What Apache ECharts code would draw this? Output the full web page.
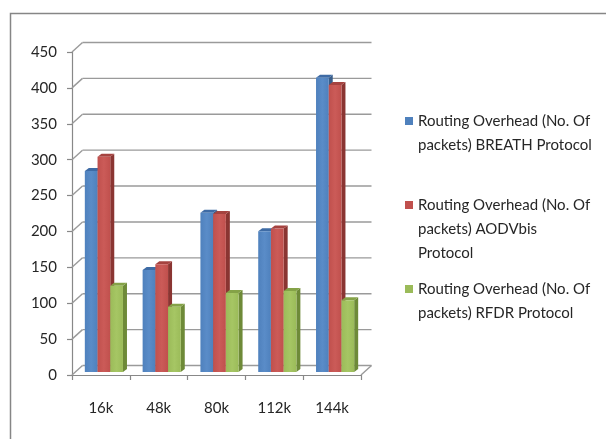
<!DOCTYPE html>
<html>
<head>
<meta charset="utf-8">
<script src="https://cdn.jsdelivr.net/npm/echarts@6/dist/echarts.min.js"></script>
<style>html,body{margin:0;padding:0;background:#fff}#c{width:606px;height:439px}</style>
</head>
<body>
<div id="c"></div>
<script>
const categories = ['16k', '48k', '80k', '112k', '144k'];
const breath = [280, 142, 222, 196, 410];
const aodvbis = [300, 150, 220, 200, 400];
const rfdr = [120, 91, 110, 113, 100];
const yTicks = [0, 50, 100, 150, 200, 250, 300, 350, 400, 450];
const seriesNames = [
  'Routing Overhead (No. Of\npackets) BREATH Protocol',
  'Routing Overhead (No. Of\npackets) AODVbis\nProtocol',
  'Routing Overhead (No. Of\npackets) RFDR Protocol'
];

const WDX = 10.5, WDY = 9.5;   // wall depth offset
const SX = 3, SY = 3;          // bar front plane offset
const BDX = 4, BDY = 3;        // bar depth
const FONT = 'Lato';

const palette = [
  {front: '#4F81BD', light: '#5A8CC8', top: '#3E6BA5', side: '#385D8A'},
  {front: '#C0504D', light: '#CB5B58', top: '#A54340', side: '#8A3532'},
  {front: '#9BBB59', light: '#A6C664', top: '#84A247', side: '#6E8A38'}
];

function barRender(sIdx) {
  const c = palette[sIdx];
  return function (params, api) {
    const i = api.value(0), v = api.value(1);
    const p0 = api.coord([i, 0]);
    const p1 = api.coord([i, v]);
    const band = api.size([1, 0])[0];
    const w = band * 0.22;
    const x = p0[0] + SX + (sIdx - 1.5) * w;
    const yb = p0[1] - SY, yt = p1[1] - SY;
    return {
      type: 'group',
      children: [
        {type: 'polygon', shape: {points: [[x + w, yt], [x + w + BDX, yt - BDY], [x + w + BDX, yb - BDY], [x + w, yb]]}, style: {fill: c.side}},
        {type: 'polygon', shape: {points: [[x, yt], [x + BDX, yt - BDY], [x + w + BDX, yt - BDY], [x + w, yt]]}, style: {fill: c.top}},
        {type: 'rect', shape: {x: x, y: yt, width: w, height: yb - yt},
          style: {fill: new echarts.graphic.LinearGradient(0, 0, 1, 0, [
            {offset: 0, color: c.front}, {offset: 0.5, color: c.light}, {offset: 1, color: c.front}])}}
      ]
    };
  };
}

function wallRender(params, api) {
  const v = api.value(1);
  const band = api.size([1, 0])[0];
  const pL = api.coord([0, v]);
  const pR = api.coord([categories.length - 1, v]);
  const xl = pL[0] - band / 2, xr = pR[0] + band / 2, y = pL[1];
  const st = {stroke: '#9a9a9a', lineWidth: 1.4, fill: null};
  const ch = [
    {type: 'line', shape: {x1: xl, y1: y, x2: xl + WDX, y2: y - WDY}, style: st},
    {type: 'line', shape: {x1: xl + WDX, y1: y - WDY, x2: xr + WDX, y2: y - WDY}, style: st}
  ];
  if (v === 0) {
    ch.push({type: 'line', shape: {x1: xr, y1: y, x2: xr + WDX, y2: y - WDY}, style: st});
  }
  return {type: 'group', children: ch};
}

const legendTops = [109, 193, 277];
const iconPaths = [
  'path://M0,0L8,0L8,8L0,8ZM0,32',
  'path://M0,0L8,0L8,8L0,8ZM0,56',
  'path://M0,0L8,0L8,8L0,8ZM0,32'
];
const iconHeights = [32, 56, 32];

const chart = echarts.init(document.getElementById('c'));
chart.setOption({
  animation: false,
  backgroundColor: '#fff',
  textStyle: {fontFamily: FONT},
  graphic: [{type: 'rect', shape: {x: 10.5, y: 13.5, width: 700, height: 600}, style: {fill: null, stroke: '#868686', lineWidth: 1.5}, silent: true}],
  legend: seriesNames.map((n, k) => ({
    left: 405, top: legendTops[k], orient: 'vertical', padding: 0,
    itemWidth: 8, itemHeight: iconHeights[k], itemGap: 0,
    data: [{name: n, icon: iconPaths[k]}],
    textStyle: {fontFamily: FONT, fontSize: 15, lineHeight: 24, color: '#262626'},
    selectedMode: false
  })),
  grid: {left: 72, right: 245, top: 52, bottom: 64},
  xAxis: {
    type: 'category', data: categories,
    axisLine: {lineStyle: {color: '#888', width: 1.2}},
    axisTick: {show: true, length: 5, lineStyle: {color: '#888', width: 1.2}},
    axisLabel: {margin: 26, fontFamily: FONT, fontSize: 15, color: '#262626'},
    splitLine: {show: false}
  },
  yAxis: {
    type: 'value', min: 0, max: 450, interval: 50,
    axisLine: {show: true, lineStyle: {color: '#888', width: 1.2}},
    axisTick: {show: true, length: 5, lineStyle: {color: '#888', width: 1.2}},
    axisLabel: {margin: 15, fontFamily: FONT, fontSize: 15, color: '#262626'},
    splitLine: {show: false}
  },
  series: [
    {type: 'custom', name: 'wall', renderItem: wallRender, data: yTicks.map(v => [0, v]), z: 1, silent: true},
    {type: 'custom', name: seriesNames[0], renderItem: barRender(0), data: breath.map((v, i) => [i, v]), itemStyle: {color: palette[0].front}, z: 3},
    {type: 'custom', name: seriesNames[1], renderItem: barRender(1), data: aodvbis.map((v, i) => [i, v]), itemStyle: {color: palette[1].front}, z: 3},
    {type: 'custom', name: seriesNames[2], renderItem: barRender(2), data: rfdr.map((v, i) => [i, v]), itemStyle: {color: palette[2].front}, z: 3}
  ]
});
</script>
</body>
</html>
